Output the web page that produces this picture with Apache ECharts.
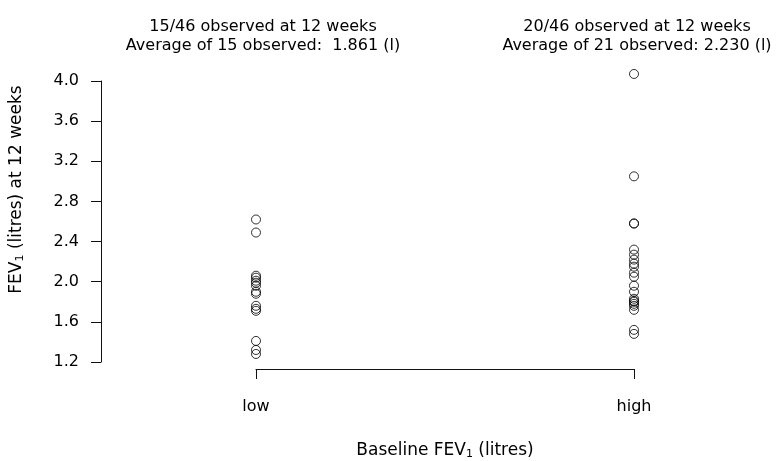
<!DOCTYPE html>
<html>
<head>
<meta charset="utf-8">
<script src="https://cdn.jsdelivr.net/npm/echarts@6/dist/echarts.min.js"></script>
<style>html,body{margin:0;padding:0;background:#fff;}#c{width:780px;height:461px;}</style>
</head>
<body>
<div id="c"></div>
<script>
const categories = ['low', 'high'];
const lowValues = [2.62, 2.49, 2.06, 2.04, 2.01, 1.99, 1.96, 1.90, 1.88, 1.76, 1.73, 1.71, 1.41, 1.32, 1.28];
const highValues = [4.07, 3.05, 2.58, 2.58, 2.32, 2.27, 2.22, 2.18, 2.15, 2.09, 2.05, 1.96, 1.90, 1.83, 1.81, 1.80, 1.78, 1.76, 1.72, 1.52, 1.48];
const yTicks = [1.2, 1.6, 2.0, 2.4, 2.8, 3.2, 3.6, 4.0];
const titles = [
  '15/46 observed at 12 weeks\nAverage of 15 observed:  1.861 (l)',
  '20/46 observed at 12 weeks\nAverage of 21 observed: 2.230 (l)'
];

const font = 'DejaVu Sans, sans-serif';
const chart = echarts.init(document.getElementById('c'));
const axisColor = '#111';

const pts = [];
lowValues.forEach(v => pts.push([0, v]));
highValues.forEach(v => pts.push([1, v]));

const subRich = {
  a: { fontFamily: font, fontSize: 17, color: '#000' },
  s: { fontFamily: font, fontSize: 11, color: '#000', verticalAlign: 'bottom', padding: [7, 0, 0, 0] }
};

chart.setOption({
  animation: false,
  backgroundColor: '#fff',
  title: [
    { text: titles[0], left: 258, top: 12, textAlign: 'center',
      textStyle: { fontFamily: font, fontSize: 16, fontWeight: 'normal', color: '#000', lineHeight: 19 } },
    { text: titles[1], left: 632, top: 12, textAlign: 'center',
      textStyle: { fontFamily: font, fontSize: 16, fontWeight: 'normal', color: '#000', lineHeight: 19 } }
  ],
  grid: { left: 256, right: 146, top: 81, bottom: 99, containLabel: false, outerBoundsMode: 'none' },
  xAxis: {
    type: 'value', min: 0, max: 1, interval: 1,
    offset: 7,
    splitLine: { show: false },
    axisLine: { show: true, onZero: false, lineStyle: { color: axisColor, width: 1 } },
    axisTick: { show: true, inside: false, length: 10, lineStyle: { color: axisColor } },
    axisLabel: { margin: 30, fontFamily: font, fontSize: 16, color: '#000',
      formatter: v => categories[Math.round(v)] },
    name: '{a|Baseline FEV}{s|1}{a| (litres)}',
    nameLocation: 'middle', nameGap: 73,
    nameTextStyle: { rich: subRich }
  },
  yAxis: {
    type: 'value', min: 1.2, max: 4.0, interval: 0.4,
    offset: 155,
    splitLine: { show: false },
    axisLine: { show: true, onZero: false, lineStyle: { color: axisColor, width: 1 } },
    axisTick: { show: true, inside: false, length: 10, lineStyle: { color: axisColor } },
    axisLabel: { margin: 22, fontFamily: font, fontSize: 16, color: '#000',
      formatter: v => v.toFixed(1) },
    name: '{a|FEV}{s|1}{a| (litres) at 12 weeks}',
    nameLocation: 'middle', nameGap: 75, nameRotate: 90,
    nameTextStyle: { rich: subRich, padding: [0, 0, 0, 64] }
  },
  series: [{
    type: 'scatter',
    data: pts,
    clip: false,
    symbol: 'circle',
    symbolSize: 9,
    itemStyle: { color: 'rgba(0,0,0,0)', borderColor: '#000', borderWidth: 1 },
    silent: true
  }]
});
</script>
</body>
</html>
